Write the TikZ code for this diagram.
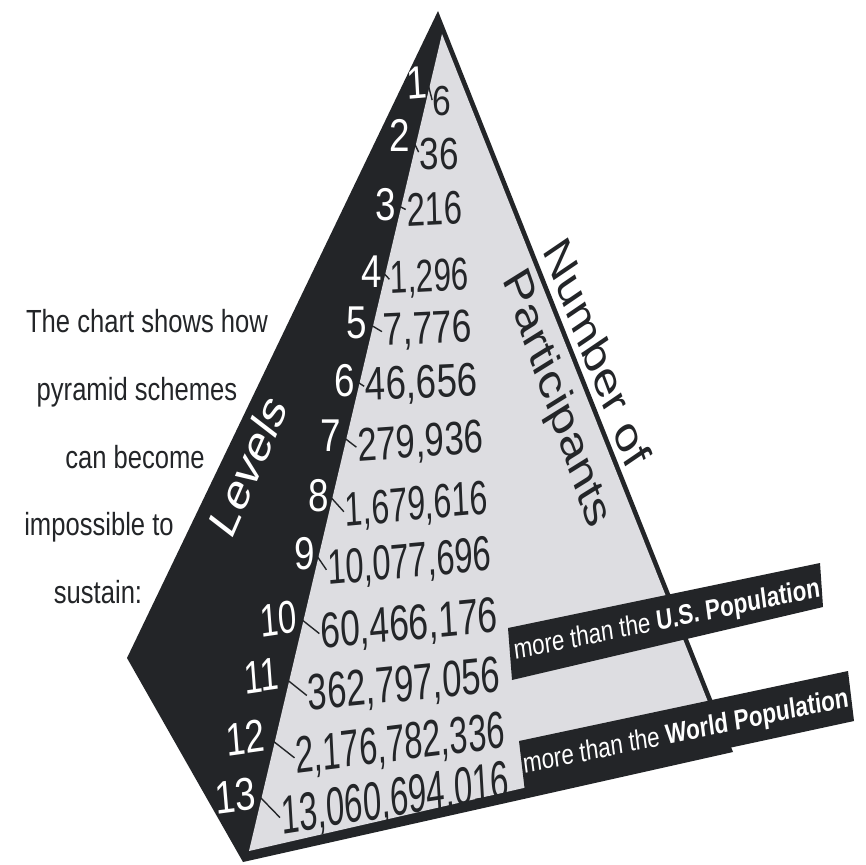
\documentclass[tikz,border=0pt]{standalone}
\usepackage{fontspec}
\setmainfont{Liberation Sans}
\definecolor{ink}{RGB}{35,37,40}
\definecolor{face}{RGB}{221,221,225}
\tikzset{
  fs/.style={font=\fontsize{#1}{#1}\selectfont},
  lvl/.style={text=white, inner sep=0pt, anchor=base, fs=46},
  num/.style={text=ink, inner sep=0pt, anchor=base},
  tickline/.style={draw=ink, line width=1.4pt, shorten <=1.5pt, shorten >=1.5pt},
  note/.style={text=ink, inner sep=0pt, anchor=base, fs=32, xscale=0.8},
  banner/.style={fill=ink, draw=none},
  bannertext/.style={text=white, inner sep=0pt, anchor=center, fs=28},
  axislabel/.style={inner sep=0pt, anchor=base, fs=53}
}
\begin{document}
\begin{tikzpicture}[x=1pt,y=-1pt]
\fill[white] (0,0) rectangle (866,864);
\useasboundingbox (0,0) rectangle (866,864);
% pyramid
\fill[ink] (438,11) -- (127,658) -- (243,862) -- (733,752) -- cycle;
\fill[face] (442,34) -- (249,851) -- (724,742) -- cycle;
% explanatory text
\node[note] (t1) at (147,332) {The chart shows how};
\node[note] (t2) at (137,400) {pyramid schemes};
\node[note] (t3) at (135,468) {can become};
\node[note] (t4) at (99,535) {impossible to};
\node[note] (t5) at (98,603) {sustain:};
% axis labels
\node[axislabel, text=white, xscale=0.75, rotate=60] (levels) at (260,475) {Levels};
\node[axislabel, text=ink, xscale=0.75, rotate=-63] (numof) at (585,361) {Number of};
\node[axislabel, text=ink, xscale=0.75, rotate=-65] (partic) at (546,405) {Participants};
% level numbers
\node[lvl, xscale=0.8, rotate=4] (L1) at (418,98.5) {1};
\node[lvl, xscale=0.8] (L2) at (400,151.5) {2};
\node[lvl, xscale=0.8] (L3) at (386,220.5) {3};
\node[lvl, xscale=0.8] (L4) at (372,287.5) {4};
\node[lvl, xscale=0.8] (L5) at (357,338.5) {5};
\node[lvl, xscale=0.8] (L6) at (345,396.5) {6};
\node[lvl, xscale=0.8] (L7) at (331,451.5) {7};
\node[lvl, xscale=0.8] (L8) at (319,511.5) {8};
\node[lvl, xscale=0.8] (L9) at (305,569.5) {9};
\node[lvl, xscale=0.72, rotate=6] (L10) at (280,634.5) {10};
\node[lvl, xscale=0.72, rotate=6] (L11) at (263,691.5) {11};
\node[lvl, xscale=0.76, rotate=6] (L12) at (247,753.5) {12};
\node[lvl, xscale=0.8, rotate=6] (L13) at (237,811.5) {13};
% participant numbers
\node[num, fs=42, xscale=0.8] (N1) at (442,116) {6};
\node[num, fs=45, xscale=0.78] (N2) at (439,169) {36};
\node[num, fs=47, xscale=0.7, rotate=2] (N3) at (435,225) {216};
\node[num, fs=46, xscale=0.68, rotate=2] (N4) at (430,291.5) {1,296};
\node[num, fs=46, xscale=0.77, rotate=2] (N5) at (428,343.5) {7,776};
\node[num, fs=47, xscale=0.78, rotate=2] (N6) at (422,398) {46,656};
\node[num, fs=47, xscale=0.74, rotate=3] (N7) at (421,457) {279,936};
\node[num, fs=48, xscale=0.67, rotate=3.5] (N8) at (417,520) {1,679,616};
\node[num, fs=49, xscale=0.67, rotate=3.5] (N9) at (410,577.5) {10,077,696};
\node[num, fs=50, xscale=0.71, rotate=4] (N10) at (410,640) {60,466,176};
\node[num, fs=51, xscale=0.68, rotate=4] (N11) at (405,701) {362,797,056};
\node[num, fs=52, xscale=0.63, rotate=4.5] (N12) at (401,760.5) {2,176,782,336};
\node[num, fs=54, xscale=0.61, rotate=5.5] (N13) at (396,816) {13,060,694,016};
% ticks
\foreach \k in {1,...,13} {\draw[tickline] (L\k.east) -- (N\k.west);}
% banners
\fill[banner] (508,628) -- (820,563) -- (823,607) -- (512,680) -- cycle;
\fill[banner] (519,741) -- (848,671) -- (854,721) -- (525,792) -- cycle;
\node[bannertext, xscale=0.8, rotate=9.4] (us) at (667,621) {more than the \textbf{U.S. Population}};
\node[bannertext, xscale=0.8, rotate=9.4] (world) at (686,733) {more than the \textbf{World Population}};
\end{tikzpicture}
\end{document}
